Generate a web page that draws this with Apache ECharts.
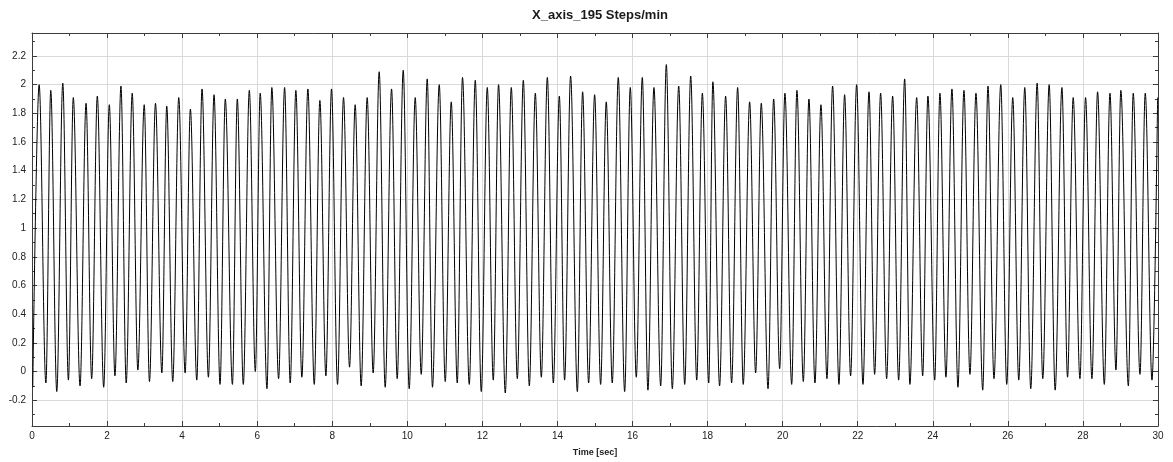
<!DOCTYPE html>
<html>
<head>
<meta charset="utf-8">
<script src="https://cdn.jsdelivr.net/npm/echarts@6/dist/echarts.min.js"></script>
<style>
  html, body { margin: 0; padding: 0; background: #ffffff; }
  #chart { width: 1173px; height: 462px; }
</style>
</head>
<body>
<div id="chart"></div>
<script>
// Accelerometer X-axis trace, 195 steps/min, 30 s record
const chartTitle = 'X_axis_195 Steps/min';
const xAxisName = 'Time [sec]';

// Local minima of the trace: time [s] and value
const troughTimes = [
  0.02, 0.37, 0.66, 0.97, 1.28, 1.59, 1.91, 2.21, 2.51, 2.82,
  3.13, 3.46, 3.75, 4.08, 4.39, 4.70, 5.01, 5.34, 5.63, 5.95,
  6.26, 6.57, 6.88, 7.19, 7.52, 7.83, 8.14, 8.46, 8.77, 9.09,
  9.41, 9.73, 10.05, 10.37, 10.67, 11.01, 11.33, 11.65, 11.97,
  12.29, 12.61, 12.93, 13.25, 13.57, 13.89, 14.19, 14.53, 14.83, 15.15,
  15.46, 15.79, 16.10, 16.41, 16.75, 17.06, 17.39, 17.71, 18.03,
  18.32, 18.64, 18.95, 19.28, 19.61, 19.92, 20.24, 20.55, 20.86, 21.18,
  21.50, 21.81, 22.14, 22.45, 22.77, 23.09, 23.39, 23.73, 24.05,
  24.35, 24.67, 24.99, 25.33, 25.63, 25.97, 26.29, 26.61, 26.93, 27.26,
  27.59, 27.92, 28.24, 28.57, 28.88, 29.21, 29.52, 29.84
];
const troughValues = [
  -0.11, -0.08, -0.14, -0.06, -0.10, -0.05, -0.11, -0.03, -0.08, 0.01,
  -0.07, -0.01, -0.07, -0.01, -0.06, -0.04, -0.09, -0.09, -0.09, 0.00,
  -0.12, -0.05, -0.08, -0.04, -0.09, -0.03, -0.09, 0.03, -0.10, -0.01,
  -0.11, -0.05, -0.12, -0.02, -0.11, -0.07, -0.08, -0.09, -0.14,
  -0.06, -0.15, -0.05, -0.10, -0.04, -0.08, -0.06, -0.14, -0.08, -0.09,
  -0.08, -0.14, -0.04, -0.13, -0.10, -0.12, -0.09, -0.06, -0.08,
  -0.10, -0.08, -0.09, -0.01, -0.12, 0.02, -0.09, -0.07, -0.08, -0.05,
  -0.09, -0.03, -0.09, -0.02, -0.05, -0.06, -0.09, -0.03, -0.06,
  -0.04, -0.11, -0.02, -0.13, -0.05, -0.09, -0.06, -0.12, -0.05, -0.13,
  -0.04, -0.05, -0.05, -0.09, 0.01, -0.10, -0.02, -0.06
];

// Local maxima of the trace: time [s] and value
const peakTimes = [
  0.19, 0.50, 0.82, 1.10, 1.44, 1.74, 2.06, 2.37, 2.67, 2.99,
  3.29, 3.59, 3.91, 4.22, 4.53, 4.85, 5.15, 5.47, 5.79, 6.08,
  6.39, 6.73, 7.03, 7.35, 7.67, 7.98, 8.30, 8.61, 8.93, 9.25,
  9.58, 9.89, 10.21, 10.53, 10.85, 11.17, 11.47, 11.81,
  12.13, 12.43, 12.77, 13.09, 13.41, 13.73, 14.05, 14.35, 14.67, 14.99,
  15.30, 15.62, 15.94, 16.26, 16.57, 16.90, 17.23, 17.55, 17.86,
  18.14, 18.48, 18.80, 19.12, 19.43, 19.76, 20.06, 20.38, 20.70, 21.02,
  21.33, 21.65, 21.97, 22.30, 22.61, 22.93, 23.25, 23.57, 23.87,
  24.19, 24.51, 24.83, 25.15, 25.47, 25.81, 26.13, 26.45, 26.78, 27.10,
  27.44, 27.74, 28.07, 28.39, 28.72, 29.01, 29.34, 29.66, 29.99
];
const peakValues = [
  2.00, 1.96, 2.01, 1.91, 1.87, 1.92, 1.86, 1.99, 1.94, 1.86,
  1.87, 1.85, 1.91, 1.83, 1.97, 1.93, 1.90, 1.90, 1.96, 1.94,
  1.98, 1.98, 1.96, 1.97, 1.89, 1.97, 1.91, 1.86, 1.91, 2.09,
  1.97, 2.10, 1.91, 2.04, 2.00, 1.88, 2.05, 2.03,
  1.98, 2.00, 1.98, 2.03, 1.94, 2.05, 1.92, 2.06, 1.95, 1.93,
  1.88, 2.05, 1.98, 2.05, 1.98, 2.14, 1.99, 2.06, 1.94,
  2.02, 1.92, 1.98, 1.88, 1.87, 1.90, 1.94, 1.96, 1.90, 1.86,
  1.99, 1.93, 2.00, 1.95, 1.94, 1.92, 2.04, 1.91, 1.92,
  1.94, 1.97, 1.96, 1.94, 1.99, 2.00, 1.91, 1.98, 2.01, 2.00,
  1.98, 1.91, 1.91, 1.95, 1.94, 1.96, 1.94, 1.94, 1.91
];

// Axis ranges and tick steps
const xRange = [0, 30];
const xStep = 2;
const yRange = [-0.38, 2.36];
const yStep = 0.2;

// Interleave minima and maxima into one time-ordered trace
const signal = [];
for (let i = 0; i < troughTimes.length; i++) {
  signal.push([troughTimes[i], troughValues[i]]);
  if (i < peakTimes.length) signal.push([peakTimes[i], peakValues[i]]);
}

const FONT = '"Liberation Sans", Arial, sans-serif';
const frameColor = '#3c3c3c';
const gridColor = '#d9d9d9';
const labelColor = '#222222';

function frame(extra) {
  return Object.assign({
    type: 'value',
    axisLine: { show: true, onZero: false, lineStyle: { color: frameColor, width: 1 } },
    axisTick: { show: true, inside: true, length: 5, lineStyle: { color: frameColor, width: 1 } },
    minorTick: { show: true, splitNumber: 2, length: 3, lineStyle: { color: frameColor, width: 1 } },
    minorSplitLine: { show: false }
  }, extra);
}

const chart = echarts.init(document.getElementById('chart'), null, { renderer: 'canvas' });

chart.setOption({
  animation: false,
  backgroundColor: '#ffffff',
  title: {
    text: chartTitle,
    left: 595,
    top: 4,
    textAlign: 'center',
    textStyle: { fontFamily: FONT, fontSize: 13, fontWeight: 'bold', color: '#1a1a1a' }
  },
  grid: { left: 32, right: 15, top: 33, bottom: 30, containLabel: false },
  xAxis: [
    frame({
      position: 'bottom',
      min: xRange[0], max: xRange[1], interval: xStep,
      name: xAxisName,
      nameLocation: 'middle',
      nameGap: 22,
      nameTextStyle: { fontFamily: FONT, fontSize: 9, fontWeight: 'bold', color: labelColor },
      axisLabel: { fontFamily: FONT, fontSize: 10, color: labelColor, margin: 5 },
      splitLine: { show: true, lineStyle: { color: gridColor, width: 1 } }
    }),
    frame({
      position: 'top',
      min: xRange[0], max: xRange[1], interval: xStep,
      axisLabel: { show: false },
      splitLine: { show: false }
    })
  ],
  yAxis: [
    frame({
      position: 'left',
      min: yRange[0], max: yRange[1],
      splitNumber: 14, minInterval: yStep, maxInterval: yStep,
      axisLabel: { fontFamily: FONT, fontSize: 10, color: labelColor, margin: 6,
                   showMinLabel: false, showMaxLabel: false },
      splitLine: { show: true, lineStyle: { color: gridColor, width: 1 } }
    }),
    frame({
      position: 'right',
      min: yRange[0], max: yRange[1],
      splitNumber: 14, minInterval: yStep, maxInterval: yStep,
      axisLabel: { show: false },
      splitLine: { show: false }
    })
  ],
  series: [{
    type: 'line',
    xAxisIndex: 0,
    yAxisIndex: 0,
    data: signal,
    showSymbol: false,
    symbol: 'none',
    smooth: 0.35,
    smoothMonotone: 'x',
    clip: true,
    lineStyle: { color: '#000000', width: 1 },
    z: 3
  }]
});
</script>
</body>
</html>
